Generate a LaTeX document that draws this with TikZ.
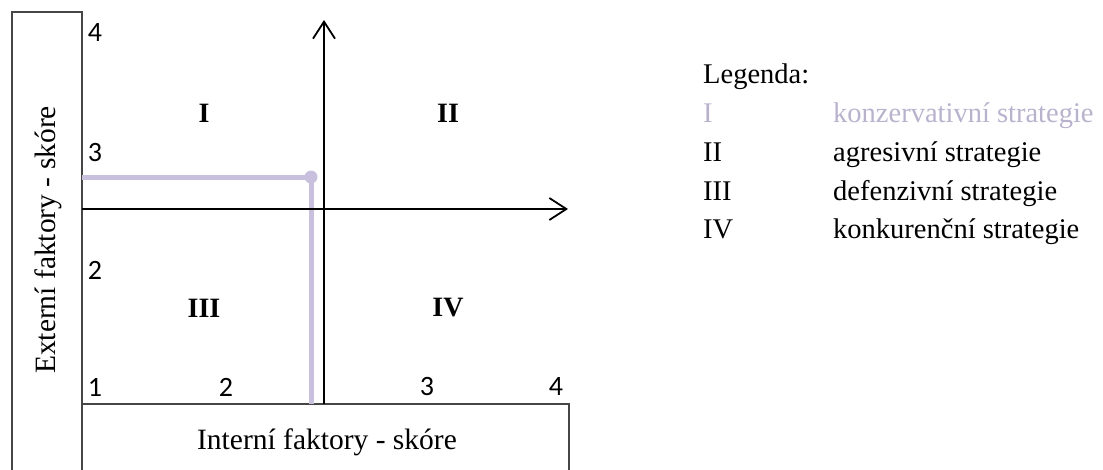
\documentclass[tikz,border=0pt]{standalone}
\usepackage{fontspec}
\setmainfont{Liberation Serif}
\newfontfamily\calib{Carlito}
\usetikzlibrary{arrows.meta}
\definecolor{boxgray}{RGB}{70,70,70}
\definecolor{lav}{RGB}{200,192,220}
\definecolor{lavtext}{RGB}{185,178,205}
\tikzset{
  frame/.style={draw=boxgray, line width=1.4pt},
  axis/.style={draw=black, line width=1.8pt, -{Straight Barb[length=17pt,width=22pt,line width=1.8pt]}},
  score/.style={draw=lav, line width=5pt},
  tick/.style={font=\calib\fontsize{28}{32}\selectfont, inner sep=0pt},
  quad/.style={font=\bfseries\fontsize{28}{32}\selectfont, inner sep=0pt},
  title/.style={font=\fontsize{29.5}{34}\selectfont, inner sep=0pt},
  leg/.style={font=\fontsize{28.5}{32}\selectfont, inner sep=0pt, anchor=base west},
}
\begin{document}
\begin{tikzpicture}[x=1pt,y=-1pt]
\useasboundingbox (0,0) rectangle (1103,469);
% frames
\coordinate (lb1) at (12,470);
\coordinate (lb2) at (12,12);
\coordinate (lb3) at (82,12);
\coordinate (lb4) at (82,470);
\coordinate (bb1) at (82,404);
\coordinate (bb2) at (569,404);
\coordinate (bb3) at (569,470);
\draw[frame] (lb1) -- (lb2) -- (lb3) -- (lb4);
\draw[frame] (bb1) -- (bb2) -- (bb3);
% score lines
\coordinate (sx0) at (82,177);
\coordinate (pt) at (311,177);
\coordinate (sy0) at (311,404);
\draw[score] (sx0) -- (pt) -- (sy0);
\fill[lav] (pt) circle (6.5);
% axes
\coordinate (hx0) at (82,209);
\coordinate (hx1) at (568,209);
\coordinate (vy0) at (324,404);
\coordinate (vy1) at (324,20);
\draw[axis] (hx0) -- (hx1);
\draw[axis] (vy0) -- (vy1);
% ticks
\node[tick] (t4) at (95,33) {4};
\node[tick] (t3) at (95,153) {3};
\node[tick] (t2) at (95,270) {2};
\node[tick] (t1) at (95,387) {1};
\node[tick] (u2) at (226,387) {2};
\node[tick] (u3) at (427,387) {3};
\node[tick] (u4) at (556,387) {4};
% quadrants
\node[quad] (q1) at (204,113) {I};
\node[quad] (q2) at (448,113) {II};
\node[quad] (q3) at (204,308) {III};
\node[quad] (q4) at (448,308) {IV};
% titles
\node[title, rotate=90] (ext) at (48,240) {Externí faktory - skóre};
\node[title, anchor=base] (int) at (327,449) {Interní faktory - skóre};
% legend
\node[leg] (lg) at (703,83) {Legenda:};
\node[leg, text=lavtext] (l1) at (703,122) {I};
\node[leg, text=lavtext] (d1) at (833,122) {konzervativní strategie};
\node[leg] (l2) at (703,161) {II};
\node[leg] (d2) at (833,161) {agresivní strategie};
\node[leg] (l3) at (703,200) {III};
\node[leg] (d3) at (833,200) {defenzivní strategie};
\node[leg] (l4) at (703,238) {IV};
\node[leg] (d4) at (833,238) {konkurenční strategie};
\end{tikzpicture}
\end{document}
